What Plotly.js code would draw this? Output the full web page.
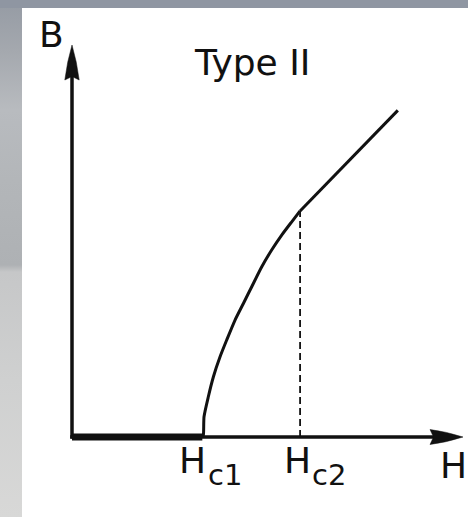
<!DOCTYPE html>
<html><head><meta charset="utf-8">
<script src="https://cdn.plot.ly/plotly-3.0.1.min.js"></script>
<style>
html,body{margin:0;padding:0;width:468px;height:517px;overflow:hidden;background:#fff;}
#left{position:absolute;left:0;top:0;width:22px;height:517px;
 background:linear-gradient(to bottom,#959ba4 0px,#a4a8ae 50px,#b8bbbf 110px,#b3b6b9 180px,#aeb1b4 265px,#c6c7c8 272px,#cfd0d0 380px,#d8d8d7 517px);}
#top{position:absolute;left:0;top:0;width:468px;height:8px;background:#8f96a2;}
#panel{position:absolute;left:22px;top:8px;width:446px;height:509px;background:#fff;}
#chart{position:absolute;left:0;top:0;width:468px;height:517px;}
</style></head>
<body>
<div id="left"></div><div id="top"></div><div id="panel"></div><div id="chart"></div>
<script>
// ---- data (H and B in units where Hc1 = 1) ----
const H_meissner = [0, 1.0];
const B_meissner = [0, 0];
const H_mixed = [1.0, 1.008, 1.013, 1.046, 1.085, 1.136, 1.187, 1.251, 1.315, 1.379, 1.456, 1.532, 1.609, 1.686, 1.75];
const B_mixed = [0, 0.015, 0.155, 0.308, 0.461, 0.614, 0.742, 0.895, 1.022, 1.15, 1.303, 1.431, 1.545, 1.647, 1.73];
const H_normal = [1.75, 2.5];
const B_normal = [1.73, 2.5];
const H_c2_guide = [1.75, 1.75];
const B_c2_guide = [0, 1.73];
const titleText = "Type II";
const yLabel = "B";
const xLabel = "H";
const tickLabels = [["H", "c1"], ["H", "c2"]];

// ---- pixel <-> data mapping (figure spans whole page) ----
const W = 468, Hh = 517;
const X0 = 72, Y0 = 437, SX = 130.33, SY = 130.67;
const xr = [-X0 / SX, (W - X0) / SX];
const yr = [-(Hh - Y0) / SY, Y0 / SY];
const dx = px => (px - X0) / SX;
const dy = py => (Y0 - py) / SY;
const P = (px, py) => dx(px).toFixed(4) + "," + dy(py).toFixed(4);

const ink = "#111";
const traces = [
  {x: H_meissner, y: B_meissner, mode: "lines", line: {color: ink, width: 7}, cliponaxis: false, hoverinfo: "skip"},
  {x: H_mixed, y: B_mixed, mode: "lines", line: {color: ink, width: 3, shape: "spline", smoothing: 0.6}, cliponaxis: false, hoverinfo: "skip"},
  {x: H_normal, y: B_normal, mode: "lines", line: {color: ink, width: 3}, cliponaxis: false, hoverinfo: "skip"},
  {x: H_c2_guide, y: B_c2_guide, mode: "lines", line: {color: ink, width: 1.8, dash: "7px,4px"}, cliponaxis: false, hoverinfo: "skip"}
];

const shapes = [
  // axes lines
  {type: "line", xref: "x", yref: "y", x0: dx(72), y0: dy(438.5), x1: dx(72), y1: dy(76), line: {color: ink, width: 3.5}},
  {type: "line", xref: "x", yref: "y", x0: dx(70.2), y0: 0, x1: dx(434), y1: 0, line: {color: ink, width: 3.5}},
  // arrowheads
  {type: "path", xref: "x", yref: "y", layer: "above",
   path: "M" + P(72, 45) + " Q" + P(67, 62) + " " + P(64.8, 80) + " L" + P(72, 76.5) + " L" + P(79.2, 80) + " Q" + P(77, 62) + " " + P(72, 45) + " Z",
   fillcolor: ink, line: {color: ink, width: 0.5}},
  {type: "path", xref: "x", yref: "y", layer: "above",
   path: "M" + P(463, 437) + " Q" + P(446, 431.5) + " " + P(430, 429.5) + " L" + P(433.5, 437) + " L" + P(430, 444.5) + " Q" + P(446, 442.5) + " " + P(463, 437) + " Z",
   fillcolor: ink, line: {color: ink, width: 0.5}}
];

const font = "DejaVu Sans, Verdana, sans-serif";
function lab(text, cx, cy, size) {
  return {text: text, xref: "paper", yref: "paper", x: cx / W, y: 1 - cy / Hh,
          xanchor: "center", yanchor: "middle", showarrow: false,
          font: {family: font, size: size, color: ink}};
}
const big = 36, sub = 29;
const annotations = [
  lab(yLabel, 51, 47 - 0.346 * big, big),
  lab(titleText, 252, 75 - 0.346 * big, big),
  lab(xLabel, 453, 478 - 0.346 * big, big),
  lab(tickLabels[0][0], 192.5, 473 - 0.346 * big, big),
  lab(tickLabels[0][1], 225, 485 - 0.346 * sub, sub),
  lab(tickLabels[1][0], 297.5, 473 - 0.346 * big, big),
  lab(tickLabels[1][1], 329, 485 - 0.346 * sub, sub)
];

const hidden = {range: null, showgrid: false, zeroline: false, showline: false, showticklabels: false, ticks: "", fixedrange: true};
const layout = {
  width: W, height: Hh,
  margin: {l: 0, r: 0, t: 0, b: 0, pad: 0},
  paper_bgcolor: "rgba(0,0,0,0)", plot_bgcolor: "rgba(0,0,0,0)",
  showlegend: false,
  xaxis: Object.assign({}, hidden, {range: xr}),
  yaxis: Object.assign({}, hidden, {range: yr}),
  shapes: shapes,
  annotations: annotations
};
Plotly.newPlot("chart", traces, layout, {displayModeBar: false, staticPlot: true});
</script>
</body></html>
